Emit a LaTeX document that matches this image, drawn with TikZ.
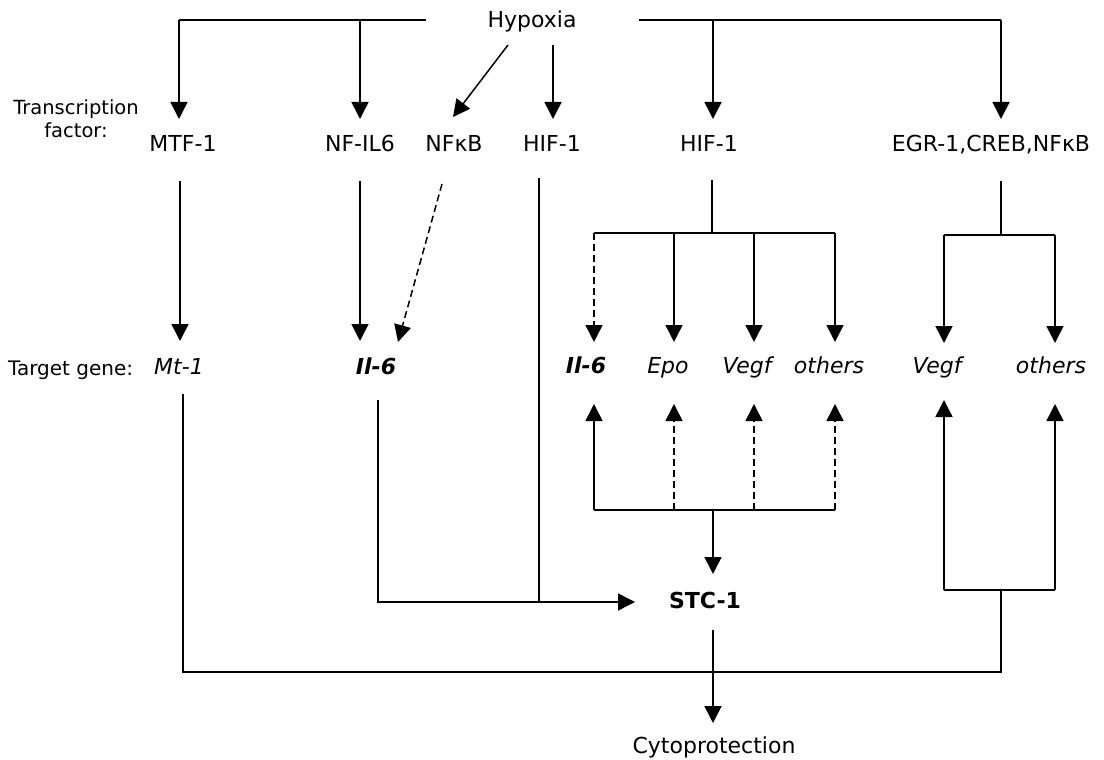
\documentclass[tikz,border=0pt]{standalone}
\usepackage{fontspec}
\setmainfont{DejaVu Sans}
\usetikzlibrary{arrows.meta}
\begin{document}
\begin{tikzpicture}[x=1pt,y=-1pt,
  lbl/.style={inner sep=0pt, anchor=base, font=\fontsize{22}{26}\selectfont},
  gene/.style={lbl, font=\fontsize{22}{26}\selectfont\itshape},
  bgene/.style={lbl, font=\fontsize{22}{26}\selectfont\bfseries\itshape},
  side/.style={inner sep=0pt, align=center, font=\fontsize{19.5}{23}\selectfont},
  con/.style={line width=1.5pt, line cap=butt},
  arr/.style={con, -{Triangle[length=17pt,width=17pt]}},
  dsh/.style={dash pattern=on 7pt off 4pt}]
\useasboundingbox (0,0) rectangle (1104,760);

% ---- texts ----
\node[lbl] (hyp) at (532,28) {Hypoxia};
\node[side, anchor=base] (lab1) at (76,137) {Transcription\\factor:};
\node[lbl] (mtf) at (183,151) {MTF-1};
\node[lbl] (nfil) at (360,151) {NF-IL6};
\node[lbl] (nfkb) at (454,151) {NFκB};
\node[lbl] (hifa) at (552,151) {HIF-1};
\node[lbl] (hifb) at (709,151) {HIF-1};
\node[lbl] (egr) at (991,151) {EGR-1,CREB,NFκB};
\node[inner sep=0pt, anchor=base west, font=\fontsize{20}{24}\selectfont] (lab2) at (8,375) {Target gene:};
\node[gene] (mt) at (179,374) {Mt-1};
\node[bgene] (ila) at (376,374) {Il-6};
\node[bgene] (ilb) at (586,373) {Il-6};
\node[gene] (epo) at (668,373) {Epo};
\node[gene] (vga) at (747,373) {Vegf};
\node[gene] (ota) at (829,373) {others};
\node[gene] (vgb) at (937,373) {Vegf};
\node[gene] (otb) at (1051,373) {others};
\node[lbl, font=\fontsize{22}{26}\selectfont\bfseries] (stc) at (705,608) {STC-1};
\node[lbl] (cyto) at (714,753) {Cytoprotection};

% ---- junction coordinates ----
\coordinate (tl0) at (426,20);  \coordinate (tl1) at (179,20);  \coordinate (tl2) at (360,20);
\coordinate (tr0) at (639,20);  \coordinate (tr1) at (1001,20); \coordinate (tr2) at (713,20);
\coordinate (inMtf) at (179,119); \coordinate (inNfil) at (360,119);
\coordinate (inHifb) at (713,119); \coordinate (inEgr) at (1001,119);
\coordinate (hypD) at (508,45);  \coordinate (inNfkb) at (453,117);
\coordinate (hypV) at (553,45);  \coordinate (inHifa) at (553,119);

\coordinate (mtfD) at (180,181); \coordinate (inMt) at (180,341);
\coordinate (nfilD) at (360,181); \coordinate (inIla) at (360,341);
\coordinate (nfkbD) at (442,184); \coordinate (inIla2) at (398,342);
\coordinate (hifaD) at (539,178); \coordinate (hifaJ) at (539,602);

\coordinate (hifbD) at (712,180); \coordinate (hifbJ) at (712,233);
\coordinate (hb1) at (594,233); \coordinate (hb2) at (674,233);
\coordinate (hb3) at (754,233); \coordinate (hb4) at (835,233);
\coordinate (inIlb) at (594,342); \coordinate (inEpo) at (674,342);
\coordinate (inVga) at (754,342); \coordinate (inOta) at (835,342);

\coordinate (egrD) at (1001,181); \coordinate (egrJ) at (1001,235);
\coordinate (eb1) at (944,235); \coordinate (eb2) at (1055,235);
\coordinate (inVgb) at (944,343); \coordinate (inOtb) at (1055,343);

\coordinate (bb1) at (594,510); \coordinate (bb2) at (674,510);
\coordinate (bb3) at (754,510); \coordinate (bb4) at (835,510);
\coordinate (upIlb) at (594,404); \coordinate (upEpo) at (674,404);
\coordinate (upVga) at (754,404); \coordinate (upOta) at (835,404);
\coordinate (bbC) at (713,510); \coordinate (inStcT) at (713,574);

\coordinate (rb1) at (944,590); \coordinate (rb2) at (1055,590);
\coordinate (upVgb) at (944,400); \coordinate (upOtb) at (1055,404);
\coordinate (rbC) at (1001,590);

\coordinate (mtD) at (183,394); \coordinate (lowL) at (183,672); \coordinate (lowR) at (1001,672);
\coordinate (ilaD) at (378,400); \coordinate (ilaJ) at (378,602); \coordinate (inStcL) at (635,602);
\coordinate (stcD) at (713,630); \coordinate (inCyto) at (713,723);

% ---- connectors: Hypoxia to transcription factors ----
\draw[con] (tl0) -- (tl1);
\draw[arr] (tl1) -- (inMtf);
\draw[arr] (tl2) -- (inNfil);
\draw[arr] (hypD) -- (inNfkb);
\draw[arr] (hypV) -- (inHifa);
\draw[con] (tr0) -- (tr1);
\draw[arr] (tr1) -- (inEgr);
\draw[arr] (tr2) -- (inHifb);

% ---- transcription factors to target genes ----
\draw[arr] (mtfD) -- (inMt);
\draw[arr] (nfilD) -- (inIla);
\draw[arr, dsh] (nfkbD) -- (inIla2);
\draw[con] (hifaD) -- (hifaJ);

\draw[con] (hifbD) -- (hifbJ);
\draw[con] (hb1) -- (hb4);
\draw[arr, dsh] (hb1) -- (inIlb);
\draw[arr] (hb2) -- (inEpo);
\draw[arr] (hb3) -- (inVga);
\draw[arr] (hb4) -- (inOta);

\draw[con] (egrD) -- (egrJ);
\draw[con] (eb1) -- (eb2);
\draw[arr] (eb1) -- (inVgb);
\draw[arr] (eb2) -- (inOtb);

% ---- feedback from STC-1 ----
\draw[con] (bb1) -- (bb4);
\draw[arr] (bb1) -- (upIlb);
\draw[arr, dsh] (bb2) -- (upEpo);
\draw[arr, dsh] (bb3) -- (upVga);
\draw[arr, dsh] (bb4) -- (upOta);
\draw[arr] (bbC) -- (inStcT);

\draw[con] (rb1) -- (rb2);
\draw[arr] (rb1) -- (upVgb);
\draw[arr] (rb2) -- (upOtb);

% ---- to STC-1 and cytoprotection ----
\draw[con] (mtD) -- (lowL) -- (lowR) -- (rbC);
\draw[arr] (ilaD) -- (ilaJ) -- (inStcL);
\draw[arr] (stcD) -- (inCyto);
\end{tikzpicture}
\end{document}
